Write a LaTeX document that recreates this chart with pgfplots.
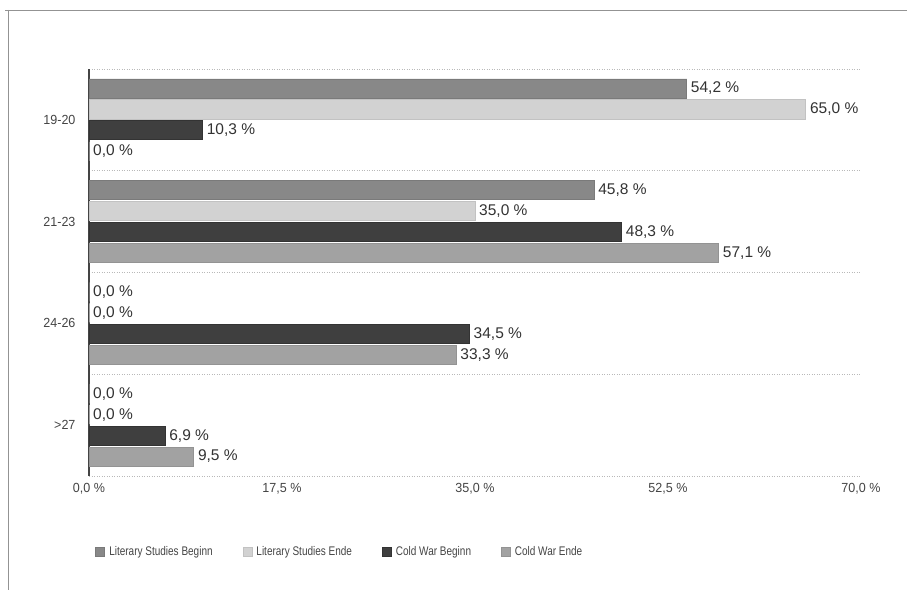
\documentclass[border=0pt]{standalone}
\usepackage{fontspec}
\setmainfont{Liberation Sans}
\newfontfamily\legfont{Liberation Sans}[FakeStretch=0.8]
\newfontfamily\tickfont{Liberation Sans}[FakeStretch=0.95]
\usepackage{pgfplots}
\pgfplotsset{compat=1.18}
\definecolor{lsb}{HTML}{888888}
\definecolor{lsbd}{HTML}{7A7A7A}
\definecolor{lse}{HTML}{D2D2D2}
\definecolor{lsed}{HTML}{C2C2C2}
\definecolor{cwb}{HTML}{3F3F3F}
\definecolor{cwbd}{HTML}{333333}
\definecolor{cwe}{HTML}{A2A2A2}
\definecolor{cwed}{HTML}{939393}
\definecolor{txt}{HTML}{333333}
\definecolor{tick}{HTML}{444444}
\begin{document}
\begin{tikzpicture}
\begin{axis}[
  at={(89pt,114pt)}, anchor=south west,
  scale only axis, width=772pt, height=407pt,
  xmin=0, xmax=70, ymin=-0.5, ymax=3.5,
  xbar, bar width=0.187,
  axis lines*=left,
  x axis line style={draw=none},
  y axis line style={draw=tick, line width=1.4pt},
  xtick={0,17.5,35,52.5,70},
  xticklabels={{0,0 \%},{17,5 \%},{35,0 \%},{52,5 \%},{70,0 \%}},
  ytick={0,1,2,3},
  yticklabels={{>27},{24-26},{21-23},{19-20}},
  major tick length=0pt, minor tick length=0pt,
  minor ytick={-0.5,0.5,1.5,2.5,3.5},
  yminorgrids=true,
  minor grid style={draw=gray!55, line width=0.8pt, dash pattern=on 0.9pt off 1.6pt},
  xticklabel style={font=\tickfont\fontsize{13.2}{15}\selectfont, text=tick, yshift=-4pt},
  yticklabel style={font=\tickfont\fontsize{13.2}{15}\selectfont, text=tick, xshift=-10pt},
  point meta=x,
  /pgf/number format/assume math mode=true,
  nodes near coords={\pgfmathprintnumber[fixed,fixed zerofill,precision=1,use comma]{\pgfplotspointmeta} \%},
  nodes near coords style={font=\fontsize{15.5}{18}\selectfont, text=txt, anchor=west, xshift=0.5pt},
  legend columns=4,
  legend image code/.code={\fill[#1] (0pt,-4.5pt) rectangle (9pt,4.5pt);},
  legend style={draw=none, fill=none, at={(0.325,-0.187)}, anchor=center,
    font=\legfont\fontsize{12.5}{14}\selectfont, text=tick,
    /tikz/every even column/.append style={column sep=28pt},
    /tikz/every odd column/.append style={column sep=2pt}},
]
\addplot[fill=lsb, draw=lsbd, line width=0.8pt, bar shift=0.309] coordinates {(54.2,3) (45.8,2) (0,1) (0,0)};
\addlegendentry{Literary Studies Beginn}
\addplot[fill=lse, draw=lsed, line width=0.8pt, bar shift=0.103] coordinates {(65.0,3) (35.0,2) (0,1) (0,0)};
\addlegendentry{Literary Studies Ende}
\addplot[fill=cwb, draw=cwbd, line width=0.8pt, bar shift=-0.103] coordinates {(10.3,3) (48.3,2) (34.5,1) (6.9,0)};
\addlegendentry{Cold War Beginn}
\addplot[fill=cwe, draw=cwed, line width=0.8pt, bar shift=-0.309] coordinates {(0,3) (57.1,2) (33.3,1) (9.5,0)};
\addlegendentry{Cold War Ende}
\end{axis}
\draw[color=gray!85, line width=0.9pt] (5pt,580pt) -- (907pt,580pt);
\draw[color=gray!85, line width=0.9pt] (8pt,580pt) -- (8pt,0pt);
\pgfresetboundingbox
\path (0,0) rectangle (907pt,590pt);
\end{tikzpicture}
\end{document}
